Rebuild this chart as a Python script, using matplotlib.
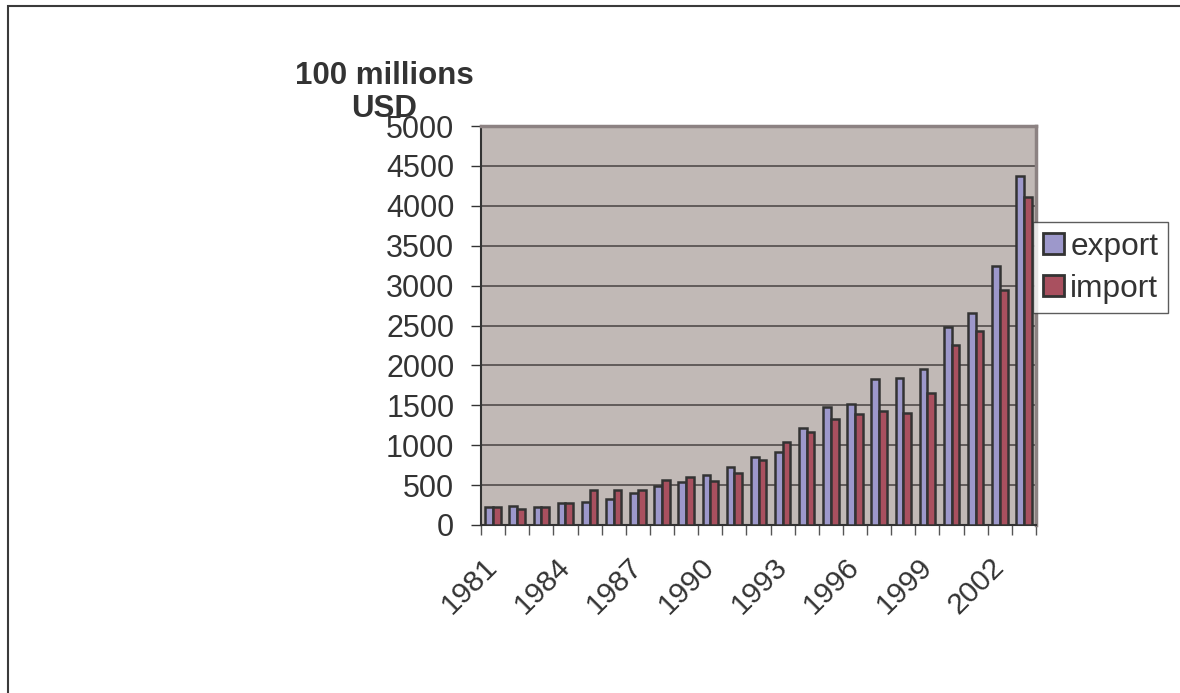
import matplotlib
matplotlib.use("Agg")
import matplotlib.pyplot as plt
import matplotlib.transforms as mtransforms
import numpy as np
from matplotlib.patches import Rectangle

plt.rcParams["font.family"] = ["Liberation Sans", "DejaVu Sans"]

years = list(range(1981, 2004))
export = [229, 237, 229, 271, 283, 321, 404, 483, 537, 625, 729, 854, 921,
          1216, 1484, 1512, 1825, 1837, 1950, 2484, 2659, 3246, 4375]
imports = [229, 204, 225, 279, 433, 441, 441, 567, 600, 546, 650, 817, 1046,
           1162, 1329, 1391, 1425, 1404, 1659, 2250, 2433, 2946, 4116]
yticks = list(range(0, 5001, 500))

TXT = "#333333"
W, H = 1180, 693
fig = plt.figure(figsize=(W / 100, H / 100), dpi=100)
fig.patch.set_facecolor("white")

# figure border (left/top visible)
fig.add_artist(Rectangle((8 / W, -0.1), 1.2, (H - 6) / H + 0.1, transform=fig.transFigure,
                         fill=False, edgecolor="#3a3a3a", linewidth=1.5))

x0, x1, yt, yb = 481, 1036, 126, 525
ax = fig.add_axes([x0 / W, (H - yb) / H, (x1 - x0) / W, (yb - yt) / H])
ax.set_facecolor("#C1B9B6")

n = len(years)
idx = np.arange(n)
bw = 0.32
ax.bar(idx - bw / 2, export, width=bw, color="#9D98CB", edgecolor="#333333",
       linewidth=1.8, label="export", zorder=3)
ax.bar(idx + bw / 2, imports, width=bw, color="#A9505F", edgecolor="#333333",
       linewidth=1.8, label="import", zorder=3)

ax.set_xlim(-0.5, n - 0.5)
ax.set_ylim(0, 5000)
ax.set_yticks(yticks)
ax.set_yticklabels([str(v) for v in yticks], fontsize=22, color=TXT)
ax.yaxis.grid(True, color="#474141", linewidth=1.1, zorder=1)
ax.set_axisbelow(True)

ax.set_xticks(np.arange(n + 1) - 0.5, minor=False)
ax.set_xticklabels([])
ax.set_xticks(idx, minor=True)
ax.set_xticklabels([str(y) if (y - 1981) % 3 == 0 else "" for y in years],
                   minor=True, rotation=45, ha="right", va="center", fontsize=21.5,
                   color=TXT, rotation_mode="anchor")
shift = mtransforms.ScaledTranslation(-6 / 100, 0, fig.dpi_scale_trans)
for lab in ax.get_xticklabels(minor=True):
    lab.set_transform(lab.get_transform() + shift)
ax.tick_params(axis="x", which="major", length=7.2, width=1.0, color="#555555", direction="out")
ax.tick_params(axis="x", which="minor", length=0, pad=27)
ax.tick_params(axis="y", length=7.2, width=1.0, color="#333333", direction="out", pad=12)

for s in ["left", "bottom"]:
    ax.spines[s].set_color("#333333")
    ax.spines[s].set_linewidth(1.5)
for s in ["top", "right"]:
    ax.spines[s].set_color("#8C8282")
    ax.spines[s].set_linewidth(2.5)

fig.text(384 / W, 1 - 76 / H, "100 millions", fontsize=22.5, fontweight="bold",
         color=TXT, ha="center", va="center")
fig.text(384 / W, 1 - 109 / H, "USD", fontsize=22.5, fontweight="bold",
         color=TXT, ha="center", va="center")

leg = fig.legend(loc="upper left", bbox_to_anchor=(1033 / W, 1 - 222 / H),
                 fontsize=22.8, frameon=True, fancybox=False, handlelength=0.68,
                 handleheight=0.68, handletextpad=0.2, borderpad=0.3,
                 labelspacing=0.38, borderaxespad=0)
leg.get_frame().set_edgecolor("#333333")
leg.get_frame().set_linewidth(1.0)
for t in leg.get_texts():
    t.set_color(TXT)
for p in leg.get_patches():
    p.set_linewidth(2.0)

fig.savefig("out.png", dpi=100, facecolor="white")
